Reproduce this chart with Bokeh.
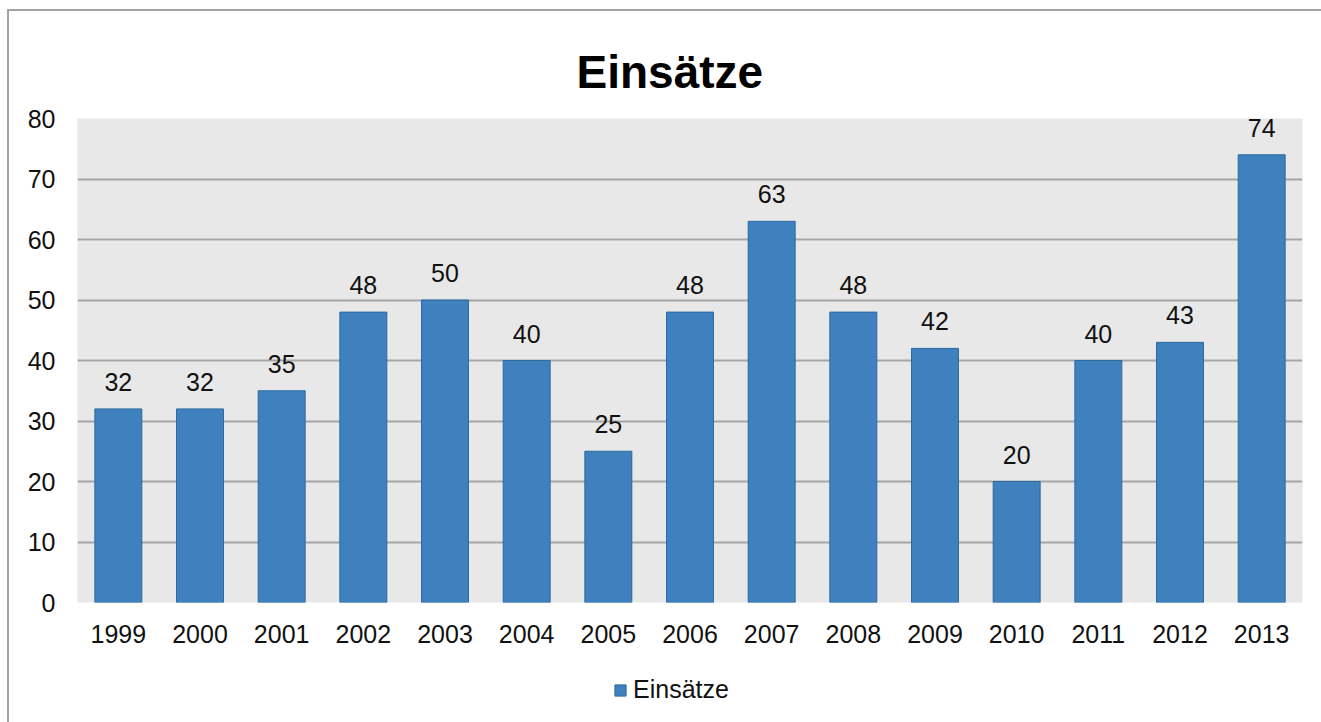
from bokeh.plotting import figure
from bokeh.layouts import column
from bokeh.models import ColumnDataSource, Legend, LegendItem, FixedTicker
from bokeh.core.properties import value
from bokeh.embed import file_html
from bokeh.resources import INLINE

years = ["1999", "2000", "2001", "2002", "2003", "2004", "2005", "2006",
         "2007", "2008", "2009", "2010", "2011", "2012", "2013"]
einsaetze = [32, 32, 35, 48, 50, 40, 25, 48, 63, 48, 42, 20, 40, 43, 74]
y_ticks = [0, 10, 20, 30, 40, 50, 60, 70, 80]
series_name = "Einsätze"

FONT = "Liberation Sans"
BAR_FILL = "#3f80bf"
BAR_LINE = "#2c6a9f"

src = ColumnDataSource(dict(year=years, val=einsaetze,
                            lab=[str(v) for v in einsaetze]))

p = figure(x_range=years, y_range=(0, 80), width=1312, height=649,
           output_backend="svg", toolbar_location=None,
           min_border_left=68, min_border_right=19,
           min_border_top=107, min_border_bottom=58,
           title="Einsätze")
p.x_range.range_padding = 0
p.background_fill_color = "#e8e8e8"
p.border_fill_color = "white"
p.outline_line_color = None

p.title.align = "left"
p.title.vertical_align = "top"
p.title.text_font = FONT
p.title.text_font_size = "46px"
p.title.text_font_style = "bold"
p.title.text_color = "black"
p.title.offset = 499
p.title.standoff = 37

p.ygrid.ticker = FixedTicker(ticks=y_ticks)
p.yaxis.ticker = FixedTicker(ticks=y_ticks)
p.ygrid.grid_line_color = "#a6a6a6"
p.ygrid.grid_line_width = 2
p.xgrid.grid_line_color = None

for ax in (p.xaxis, p.yaxis):
    ax.axis_line_color = None
    ax.major_tick_line_color = None
    ax.minor_tick_line_color = None
    ax.major_tick_out = 0
    ax.major_tick_in = 0
    ax.major_label_text_font = FONT
    ax.major_label_text_font_size = "25px"
    ax.major_label_text_color = "#111111"
p.xaxis.major_label_standoff = 22
p.yaxis.major_label_standoff = 22

p.vbar(x="year", top="val", width=0.575, source=src,
       fill_color=BAR_FILL, line_color=BAR_LINE, line_width=1)

p.text(x="year", y="val", text="lab", source=src, text_align="center",
       text_baseline="bottom", y_offset=-18, text_font=value(FONT),
       text_font_size="25px", text_color="#111111")

# legend strip below the chart (its frame is aligned with the chart's frame)
q = figure(width=1312, height=62, x_range=years, y_range=(1000, 1001),
           output_backend="svg", toolbar_location=None,
           min_border=0, border_fill_color="white",
           background_fill_color="white", outline_line_color=None)
q.axis.visible = False
q.grid.visible = False
key = q.vbar(x="year", top="val", width=0.575, source=src,
             fill_color=BAR_FILL, line_color=BAR_LINE, line_width=1)
legend = Legend(items=[LegendItem(label=series_name, renderers=[key])],
                location=(536, 18), orientation="horizontal",
                label_text_font=FONT, label_text_font_size="25px",
                label_text_color="#111111", glyph_width=14, glyph_height=14,
                label_standoff=6, padding=0, margin=0, spacing=0,
                border_line_color=None, background_fill_alpha=0)
q.add_layout(legend, "center")

layout = column(p, q, spacing=0)
layout.styles = {"margin-left": "7px", "margin-top": "9px",
                 "border-left": "2px solid #a3a3a3",
                 "border-top": "2px solid #a3a3a3"}

open("out.html", "w").write(file_html(layout, INLINE))
